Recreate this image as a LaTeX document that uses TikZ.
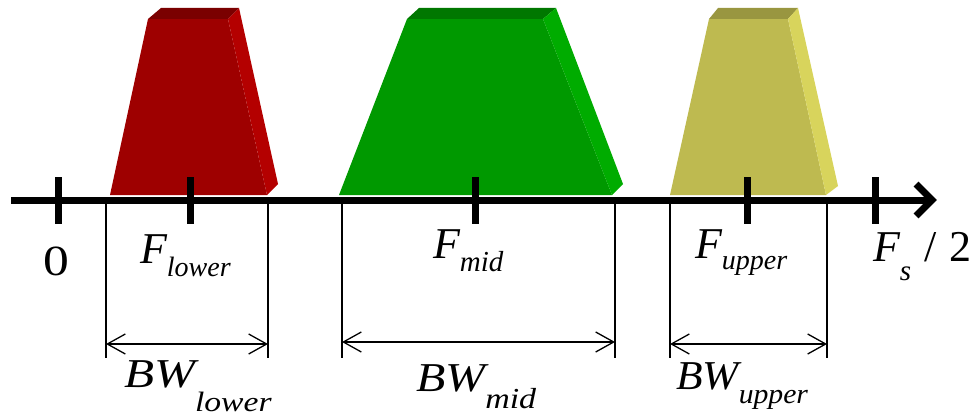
\documentclass[tikz,border=0pt]{standalone}
\usepackage{fontspec}
\setmainfont{Liberation Serif}
\usetikzlibrary{arrows.meta}
\definecolor{redF}{RGB}{158,0,0}
\definecolor{redT}{RGB}{122,0,0}
\definecolor{redS}{RGB}{180,0,0}
\definecolor{grnF}{RGB}{0,153,0}
\definecolor{grnT}{RGB}{0,119,0}
\definecolor{grnS}{RGB}{0,172,0}
\definecolor{yelF}{RGB}{190,186,80}
\definecolor{yelT}{RGB}{153,150,64}
\definecolor{yelS}{RGB}{216,212,92}
\newcommand{\mylbl}[5]{{\fontsize{#3}{#3}\selectfont\itshape #1}\raisebox{-#5pt}{\fontsize{#4}{#4}\selectfont\itshape #2}}
\tikzset{
  axisline/.style={line width=7pt},
  tickmark/.style={line width=7pt},
  bwline/.style={line width=1.3pt},
  bwarrow/.style={line width=1.3pt,{Straight Barb[length=18pt,width=20pt]}-{Straight Barb[length=18pt,width=20pt]}},
  lbl/.style={anchor=base west,inner sep=0pt,outer sep=0pt}
}
\begin{document}
\begin{tikzpicture}[x=1pt,y=-1pt]
\useasboundingbox (0,0) rectangle (977,417);
% red block
\fill[redF] (110,195) -- (267,195) -- (228,19) -- (148,19) -- cycle;
\fill[redT] (148,19) -- (161,8) -- (239,8) -- (228,19) -- cycle;
\fill[redS] (228,19) -- (239,8) -- (278,184) -- (267,195) -- cycle;
% green block
\fill[grnF] (339,195) -- (612,195) -- (543,19) -- (407,19) -- cycle;
\fill[grnT] (407,19) -- (419,8) -- (556,8) -- (543,19) -- cycle;
\fill[grnS] (543,19) -- (556,8) -- (623,184) -- (612,195) -- cycle;
% yellow block
\fill[yelF] (670,195) -- (826,195) -- (788,19) -- (709,19) -- cycle;
\fill[yelT] (709,19) -- (718,8) -- (798,8) -- (788,19) -- cycle;
\fill[yelS] (788,19) -- (798,8) -- (838,186) -- (826,195) -- cycle;
% axis
\coordinate (axs) at (11,200);
\coordinate (axe) at (932,200);
\coordinate (ahu) at (916,184);
\coordinate (ahd) at (916,216);
\draw[axisline] (axs) -- (axe);
\draw[axisline,miter limit=10] (ahu) -- (axe) -- (ahd);
% ticks
\foreach \x/\n in {58/t0,190/tl,475/tm,747/tu,875/ts}{
  \coordinate (\n a) at (\x,177);
  \coordinate (\n b) at (\x,224);
  \draw[tickmark] (\n a) -- (\n b);
}
% bandwidth lines
\foreach \x/\n in {106/la,268/lb,342/ma,615/mb,670/ua,827/ub}{
  \coordinate (\n top) at (\x,200);
  \coordinate (\n bot) at (\x,358);
  \draw[bwline] (\n top) -- (\n bot);
}
\coordinate (la arr) at (106,344);
\coordinate (lb arr) at (268,344);
\coordinate (ma arr) at (342,342);
\coordinate (mb arr) at (615,342);
\coordinate (ua arr) at (670,344);
\coordinate (ub arr) at (827,344);
\draw[bwarrow] (la arr) -- (lb arr);
\draw[bwarrow] (ma arr) -- (mb arr);
\draw[bwarrow] (ua arr) -- (ub arr);
% labels
\node[lbl] (n0) at (43,275) {\scalebox{1.2}[1]{\fontsize{43}{43}\selectfont 0}};
\node[lbl] (nfl) at (140,263) {\mylbl{F}{lower}{44}{28}{13}};
\node[lbl] (nfm) at (433,258) {\mylbl{F}{mid}{44}{29}{13}};
\node[lbl] (nfu) at (695,258) {\mylbl{F}{upper}{44}{28}{11}};
\node[lbl] (nfs) at (873,261) {\mylbl{F}{s}{44}{29}{19}{\fontsize{44}{44}\selectfont\hspace{13pt}/\hspace{13pt}2}};
\node[lbl] (nbwl) at (124,387) {\scalebox{1.2}[1]{\mylbl{BW}{lower}{41}{28}{24}}};
\node[lbl] (nbwm) at (416,391) {\scalebox{1.17}[1]{\mylbl{BW}{mid}{41}{29}{17}}};
\node[lbl] (nbwu) at (676,389) {\scalebox{1.06}[1]{\mylbl{BW}{upper}{41}{28}{14}}};
\end{tikzpicture}
\end{document}
